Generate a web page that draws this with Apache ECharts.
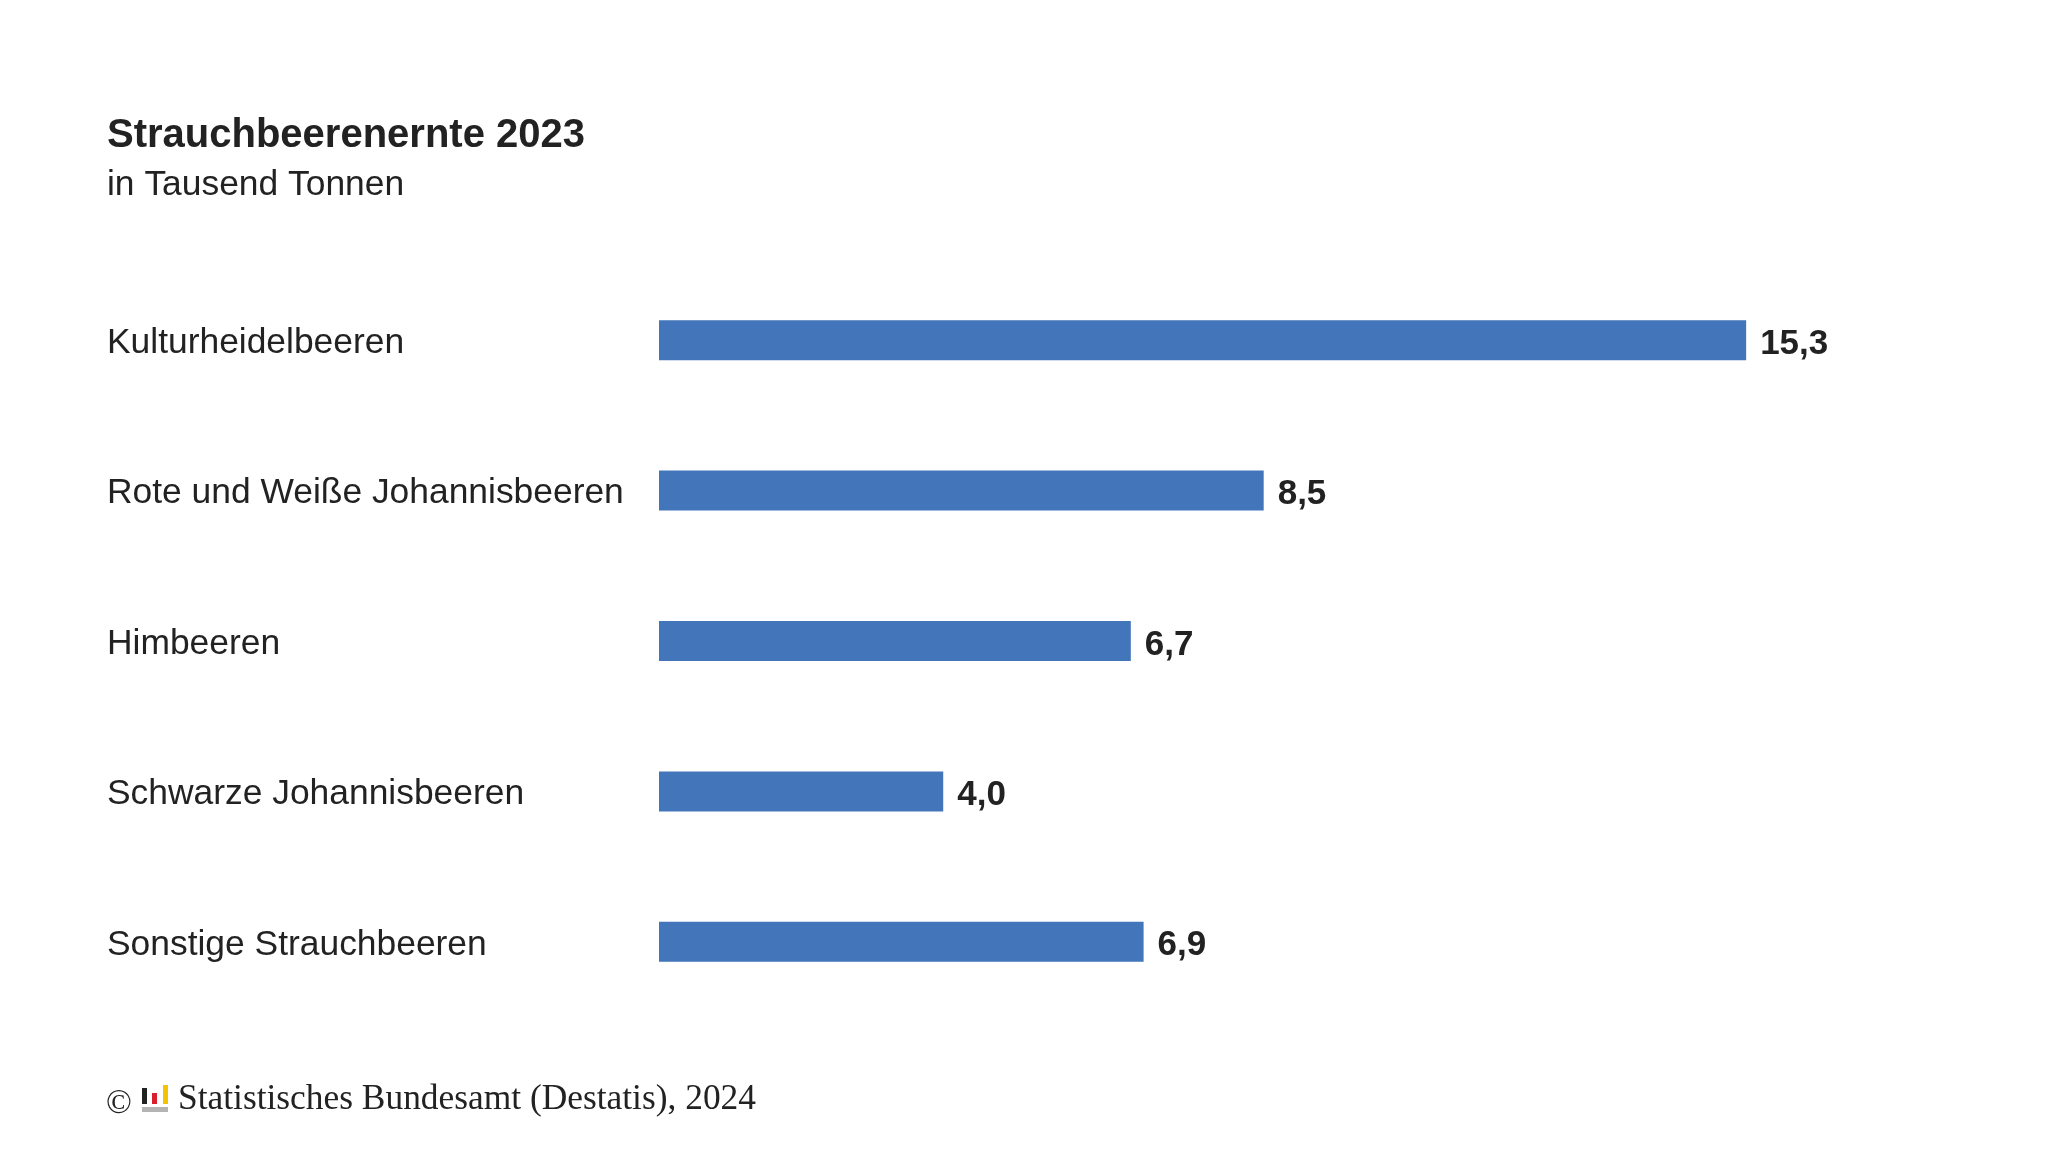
<!DOCTYPE html>
<html>
<head>
<meta charset="utf-8">
<title>Strauchbeerenernte 2023</title>
<script src="https://cdn.jsdelivr.net/npm/echarts@6/dist/echarts.min.js"></script>
<style>
    html, body { margin: 0; padding: 0; background: #fff; }
    #main { width: 2048px; height: 1152px; }
</style>
</head>
<body>
<div id="main"></div>
<script>
// Strauchbeerenernte 2023, in Tausend Tonnen
var categories = ['Kulturheidelbeeren', 'Rote und Weiße Johannisbeeren', 'Himbeeren', 'Schwarze Johannisbeeren', 'Sonstige Strauchbeeren'];
// bar lengths as measured in the picture (unrounded)
var values = [15.3, 8.51, 6.64, 4.0, 6.82];
// printed value labels
var valueLabels = ['15,3', '8,5', '6,7', '4,0', '6,9'];

var dom = document.getElementById('main');
var chart = echarts.init(dom);
var textColor = '#222222';
var sans = 'Liberation Sans, Arial, sans-serif';
var serif = 'Liberation Serif, Times New Roman, serif';

var option = {
    backgroundColor: '#ffffff',
    title: [{
        text: 'Strauchbeerenernte 2023',
        left: 107,
        top: 116,
        padding: 0,
        textStyle: { fontFamily: sans, fontSize: 40, fontWeight: 'bold', color: textColor }
    }, {
        text: 'in Tausend Tonnen',
        left: 107,
        top: 168,
        padding: 0,
        textStyle: { fontFamily: sans, fontSize: 35.4, fontWeight: 'normal', color: textColor }
    }],
    grid: {
        left: 659,
        top: 265,
        width: 1279,
        height: 752
    },
    xAxis: {
        type: 'value',
        min: 0,
        max: 18,
        show: false
    },
    yAxis: {
        type: 'category',
        inverse: true,
        data: categories,
        axisLine: { show: false },
        axisTick: { show: false },
        splitLine: { show: false },
        axisLabel: {
            align: 'left',
            verticalAlign: 'top',
            lineHeight: 6,   // nudges the text ~3px below the bar centre
            margin: 552,
            fontFamily: sans,
            fontSize: 35.4,
            color: textColor
        }
    },
    series: [{
        type: 'bar',
        data: values,
        barWidth: 40,
        itemStyle: { color: '#4275B9' },
        label: {
            show: true,
            position: 'right',
            distance: 14,
            offset: [0, 4],
            fontFamily: sans,
            fontSize: 35,
            fontWeight: 'bold',
            color: textColor,
            formatter: function (p) {
                return valueLabels[p.dataIndex];
            }
        },
        silent: true
    }],
    graphic: [
        // copyright line
        { type: 'text', left: 106, top: 1087, style: { text: '©', font: '34px ' + serif, fill: textColor } },
        { type: 'rect', shape: { x: 142, y: 1088, width: 5, height: 16 }, style: { fill: '#222222' } },
        { type: 'rect', shape: { x: 152, y: 1093, width: 5, height: 11 }, style: { fill: '#d8202f' } },
        { type: 'rect', shape: { x: 163, y: 1085, width: 5, height: 19 }, style: { fill: '#f5c400' } },
        { type: 'rect', shape: { x: 142, y: 1107, width: 26, height: 5 }, style: { fill: '#b4b4b4' } },
        { type: 'text', left: 178, top: 1082, style: { text: 'Statistisches Bundesamt (Destatis), 2024', font: '35.4px ' + serif, fill: textColor } }
    ]
};

chart.setOption(option);
window.addEventListener('resize', function () {
    chart.resize();
});
</script>
</body>
</html>
